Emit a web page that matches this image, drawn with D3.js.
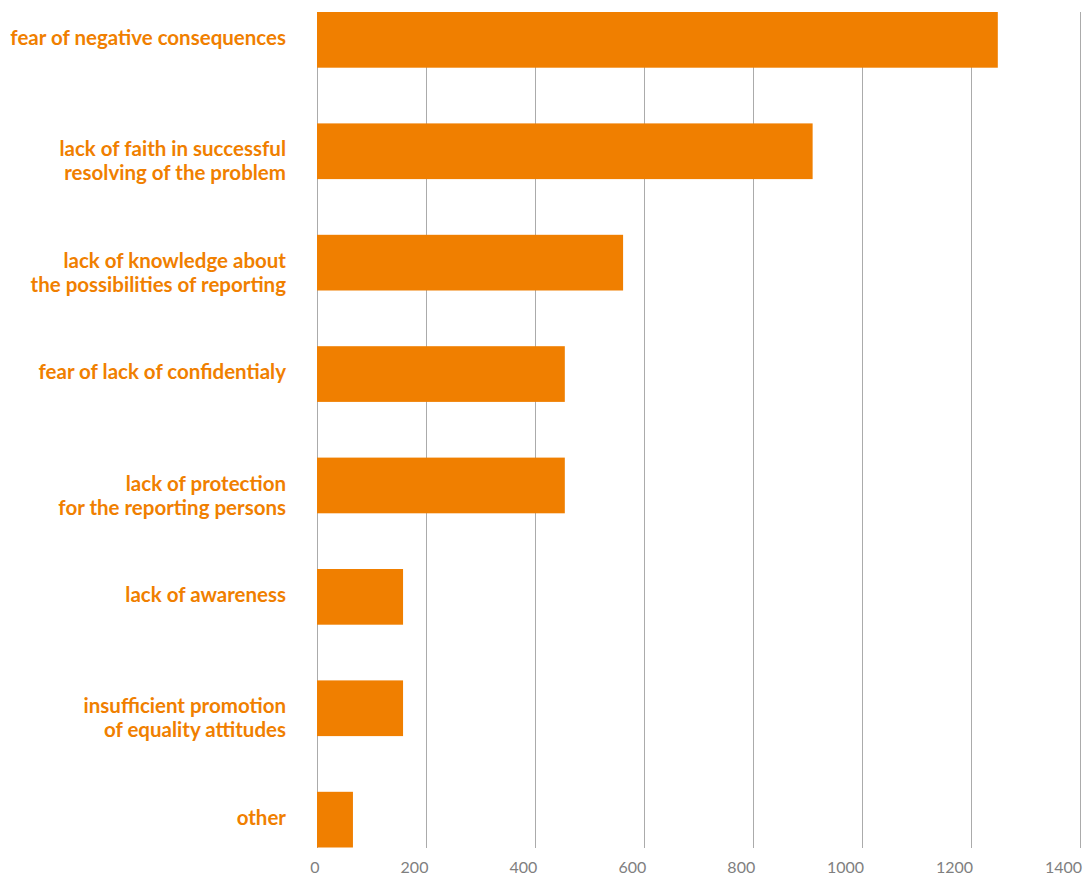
<!DOCTYPE html>
<html>
<head>
<meta charset="utf-8">
<script src="https://cdn.jsdelivr.net/npm/d3@7"></script>
<style>
  body { margin: 0; background: #fff; }
</style>
</head>
<body>
<div id="chart"></div>
<script>
// Data
var categories = [
  ["fear of negative consequences"],
  ["lack of faith in successful", "resolving of the problem"],
  ["lack of knowledge about", "the possibilities of reporting"],
  ["fear of lack of confidentialy"],
  ["lack of protection", "for the reporting persons"],
  ["lack of awareness"],
  ["insufficient promotion", "of equality attitudes"],
  ["other"]
];
var values = [1250, 910, 562, 455, 455, 158, 158, 66];
var xTicks = [0, 200, 400, 600, 800, 1000, 1200, 1400];

var visualize = function() {
  var width = 1085, height = 877;
  var orange = "#F07F00";

  var svg = d3.select("#chart")
    .append("svg")
    .attr("width", width)
    .attr("height", height);

  // Scales:
  var xScale = d3.scaleLinear()
    .domain([0, 1400])
    .range([317, 1079.5]);
  var yScale = d3.scaleBand()
    .domain(d3.range(categories.length))
    .range([12, 847.5])
    .paddingInner(0.5)
    .paddingOuter(0);

  // Gridlines
  svg.append("g")
    .selectAll("line")
    .data(xTicks)
    .enter()
    .append("line")
    .attr("x1", function(d) { return Math.round(xScale(d)) + 0.5; })
    .attr("x2", function(d) { return Math.round(xScale(d)) + 0.5; })
    .attr("y1", 12)
    .attr("y2", 848)
    .attr("stroke", "#ababab")
    .attr("stroke-width", 1);

  // Axis labels
  var xAxis = d3.axisBottom(xScale)
    .tickValues(xTicks)
    .tickFormat(d3.format("d"))
    .tickSize(0)
    .tickPadding(0);
  var ax = svg.append("g")
    .attr("transform", "translate(0,862)")
    .call(xAxis);
  ax.select(".domain").remove();
  ax.selectAll("text")
    .attr("text-anchor", "end")
    .attr("dx", 2)
    .attr("dy", "0.71em")
    .attr("fill", "#7f7f7f")
    .style("font-family", "Lato, 'Open Sans', sans-serif")
    .style("font-size", "16px");

  // Bars
  svg.append("g")
    .selectAll("rect")
    .data(values)
    .enter()
    .append("rect")
    .attr("x", xScale(0))
    .attr("y", function(d, i) { return yScale(i); })
    .attr("width", function(d) { return xScale(d) - xScale(0); })
    .attr("height", yScale.bandwidth())
    .attr("fill", orange);

  // Category labels
  var labels = svg.append("g")
    .selectAll("text")
    .data(categories)
    .enter()
    .append("text")
    .attr("x", 286)
    .attr("y", function(d, i) { return yScale(i) + yScale.bandwidth() / 2 - 2; })
    .attr("text-anchor", "end")
    .attr("fill", orange)
    .style("font-family", "Lato, 'Open Sans', sans-serif")
    .style("font-weight", "bold")
    .style("font-size", "20.5px");

  labels.selectAll("tspan")
    .data(function(d) { return d; })
    .enter()
    .append("tspan")
    .attr("x", 286)
    .attr("dy", function(d, i) { return i == 0 ? "0.35em" : "24px"; })
    .text(function(d) { return d; });
};

visualize();
</script>
</body>
</html>
